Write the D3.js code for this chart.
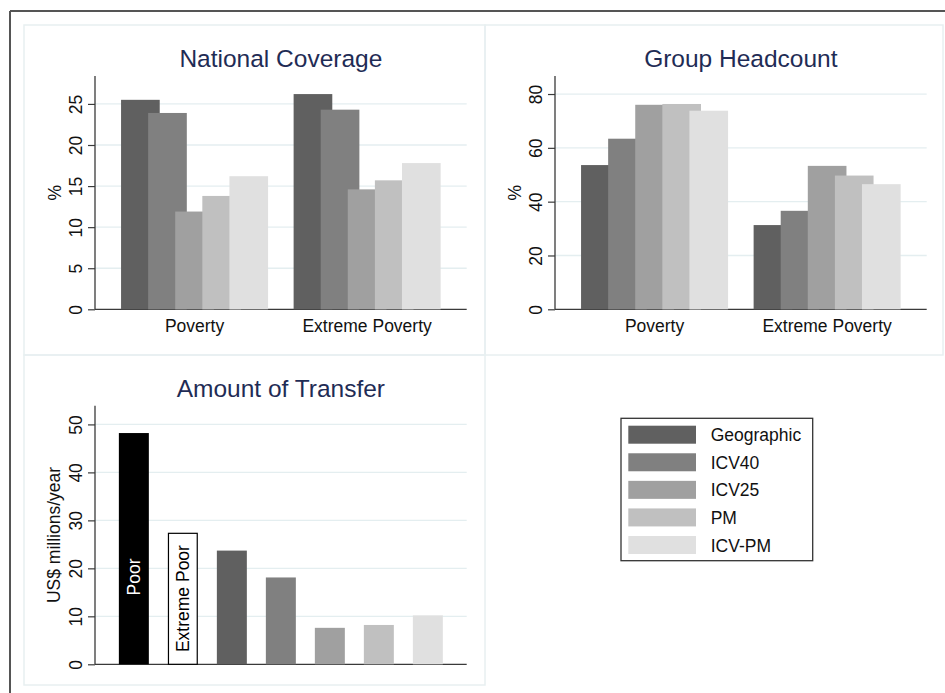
<!DOCTYPE html>
<html>
<head>
<meta charset="utf-8">
<script src="https://cdn.jsdelivr.net/npm/d3@7"></script>
<style>
  html, body { margin: 0; padding: 0; background: #ffffff; }
  svg { display: block; }
  text { font-family: "Liberation Sans", Arial, Helvetica, sans-serif; }
</style>
</head>
<body>
<svg id="chart" width="945" height="693"></svg>
<script>
// ---------------- data ----------------
const series = ["Geographic", "ICV40", "ICV25", "PM", "ICV-PM"];
const seriesColors = ["#606060", "#808080", "#a0a0a0", "#c0c0c0", "#e0e0e0"];
const groups = ["Poverty", "Extreme Poverty"];

const coveragePoverty = [25.5, 23.9, 11.9, 13.8, 16.2];
const coverageExtreme = [26.2, 24.3, 14.6, 15.7, 17.8];
const coverageTicks = [0, 5, 10, 15, 20, 25];
const coverageMax = 28.4;

const headcountPoverty = [53.6, 63.4, 76.0, 76.3, 73.8];
const headcountExtreme = [31.3, 36.6, 53.3, 49.7, 46.5];
const headcountTicks = [0, 20, 40, 60, 80];
const headcountMax = 86.7;

const transferCategories = ["Poor", "Extreme Poor", "Geographic", "ICV40", "ICV25", "PM", "ICV-PM"];
const transferValues = [48.2, 27.3, 23.7, 18.1, 7.6, 8.2, 10.2];
const transferTicks = [0, 10, 20, 30, 40, 50];
const transferMax = 53.9;
const transferInsideLabels = ["Poor", "Extreme Poor"];
const transferLabelPos = [18.2, 13.7];

// ---------------- style ----------------
const FONT = 17.5;
const TITLE_FONT = 24.5;
const TITLE_COLOR = "#1f2c55";
const AXIS_COLOR = "#3a3a3a";
const GRID_COLOR = "#e4eef0";
const PANEL_COLOR = "#e8eff1";

const svg = d3.select("#chart");

// outer frame (top and left)
svg.append("line").attr("x1", 10).attr("y1", 11).attr("x2", 945).attr("y2", 11)
  .attr("stroke", "#555").attr("stroke-width", 2);
svg.append("line").attr("x1", 10).attr("y1", 11).attr("x2", 10).attr("y2", 693)
  .attr("stroke", "#555").attr("stroke-width", 2);

// panel frames
const panels = [
  [24, 25, 485, 355],
  [485, 25, 943, 355],
  [24, 355, 485, 685]
];
panels.forEach(p => {
  svg.append("rect").attr("x", p[0]).attr("y", p[1])
    .attr("width", p[2] - p[0]).attr("height", p[3] - p[1])
    .attr("fill", "none").attr("stroke", PANEL_COLOR).attr("stroke-width", 1.5);
});

function drawAxisFrame(g, x0, x1, y, ticks, title, titleY, ylabel, ylabelX) {
  const [yTop, yBase] = [y.range()[1], y.range()[0]];
  // gridlines
  g.append("g").selectAll("line").data(ticks.filter(t => t !== 0)).join("line")
    .attr("x1", x0).attr("x2", x1)
    .attr("y1", d => y(d)).attr("y2", d => y(d))
    .attr("stroke", GRID_COLOR).attr("stroke-width", 1.3);
  // y axis via d3
  const axis = d3.axisLeft(y).tickValues(ticks).tickSize(7).tickSizeOuter(0).tickPadding(0);
  const ag = g.append("g").attr("transform", `translate(${x0},0)`).call(axis);
  ag.select(".domain").remove();
  ag.selectAll(".tick line").attr("stroke", AXIS_COLOR).attr("stroke-width", 1.2);
  ag.selectAll(".tick text")
    .attr("x", null).attr("dy", null)
    .attr("transform", "translate(-13.5,0) rotate(-90)")
    .attr("text-anchor", "middle")
    .attr("font-size", FONT).attr("fill", "#111")
    .attr("font-family", "Liberation Sans, Arial, sans-serif");
  g.append("line").attr("x1", x0).attr("x2", x0).attr("y1", yTop).attr("y2", yBase)
    .attr("stroke", AXIS_COLOR).attr("stroke-width", 1.3);
  g.append("line").attr("x1", x0).attr("x2", x1).attr("y1", yBase).attr("y2", yBase)
    .attr("stroke", AXIS_COLOR).attr("stroke-width", 1.3);
  // title
  g.append("text").attr("x", (x0 + x1) / 2).attr("y", titleY)
    .attr("text-anchor", "middle").attr("font-size", TITLE_FONT).attr("fill", TITLE_COLOR)
    .text(title);
  // y label
  g.append("text")
    .attr("transform", `translate(${ylabelX},${(yTop + yBase) / 2}) rotate(-90)`)
    .attr("text-anchor", "middle").attr("font-size", FONT).attr("fill", "#111")
    .text(ylabel);
}

function drawGrouped(cfg) {
  const g = svg.append("g");
  const y = d3.scaleLinear().domain([0, cfg.max]).range([cfg.yBase, cfg.yTop]);
  drawAxisFrame(g, cfg.x0, cfg.x1, y, cfg.ticks, cfg.title, cfg.titleY, "%", cfg.x0 - 34);

  const xg = d3.scaleBand().domain(groups).range([cfg.x0, cfg.x1])
    .paddingInner(0.148).paddingOuter(0.151);
  const bw = xg.bandwidth();
  const barW = bw * 0.263;
  const xs = d3.scalePoint().domain(series).range([0, bw - barW]);
  const color = d3.scaleOrdinal().domain(series).range(seriesColors);

  const rows = [];
  groups.forEach((gr, gi) => {
    cfg.values[gi].forEach((v, si) => rows.push({ group: gr, series: series[si], value: v }));
  });
  g.append("g").selectAll("rect").data(rows).join("rect")
    .attr("x", d => xg(d.group) + xs(d.series))
    .attr("width", barW)
    .attr("y", d => y(d.value))
    .attr("height", d => y(0) - y(d.value))
    .attr("fill", d => color(d.series));

  g.append("g").selectAll("text").data(groups).join("text")
    .attr("x", d => xg(d) + bw / 2)
    .attr("y", cfg.yBase + 23)
    .attr("text-anchor", "middle").attr("font-size", FONT).attr("fill", "#111")
    .text(d => d);
}

drawGrouped({
  x0: 95, x1: 466.7, yTop: 76, yBase: 309.3, max: coverageMax,
  ticks: coverageTicks, title: "National Coverage", titleY: 66.5,
  values: [coveragePoverty, coverageExtreme]
});
drawGrouped({
  x0: 555, x1: 926.7, yTop: 76, yBase: 309.3, max: headcountMax,
  ticks: headcountTicks, title: "Group Headcount", titleY: 66.5,
  values: [headcountPoverty, headcountExtreme]
});

// ---------------- Amount of Transfer ----------------
(function () {
  const g = svg.append("g");
  const x0 = 95, x1 = 466.7, yTop = 405.7, yBase = 664.3;
  const y = d3.scaleLinear().domain([0, transferMax]).range([yBase, yTop]);
  drawAxisFrame(g, x0, x1, y, transferTicks, "Amount of Transfer", 396.5, "US$ millions/year", 59.5);

  const x = d3.scaleBand().domain(transferCategories).range([x0, x1])
    .paddingInner(0.388).paddingOuter(0.487);
  const seriesColor = d3.scaleOrdinal().domain(series).range(seriesColors);
  const fillOf = (d, i) => i === 0 ? "#000000" : (i === 1 ? "#ffffff" : seriesColor(d));

  g.append("g").selectAll("rect").data(transferCategories).join("rect")
    .attr("x", d => x(d) + (transferCategories.indexOf(d) === 1 ? 0.6 : 0))
    .attr("width", (d, i) => i === 1 ? x.bandwidth() - 1.2 : x.bandwidth())
    .attr("y", (d, i) => y(transferValues[i]))
    .attr("height", (d, i) => y(0) - y(transferValues[i]))
    .attr("fill", (d, i) => fillOf(d, i))
    .attr("stroke", (d, i) => i === 1 ? "#000" : "none")
    .attr("stroke-width", 1.2);

  g.append("g").selectAll("text").data(transferInsideLabels).join("text")
    .attr("transform", (d, i) => `translate(${x(d) + x.bandwidth() / 2 + 6},${y(transferLabelPos[i])}) rotate(-90)`)
    .attr("text-anchor", "middle").attr("font-size", FONT)
    .attr("fill", (d, i) => i === 0 ? "#ffffff" : "#000000")
    .text(d => d);
})();

// ---------------- legend ----------------
(function () {
  const g = svg.append("g");
  g.append("rect").attr("x", 621).attr("y", 418.3).attr("width", 191.7).attr("height", 142.4)
    .attr("fill", "#fff").attr("stroke", "#333").attr("stroke-width", 1.3);
  const ly = d3.scalePoint().domain(series).range([425.7, 536]);
  const items = g.selectAll("g.item").data(series).join("g").attr("class", "item")
    .attr("transform", d => `translate(0,${ly(d)})`);
  items.append("rect").attr("x", 628.3).attr("y", 0).attr("width", 67.7).attr("height", 18)
    .attr("fill", (d, i) => seriesColors[i]);
  items.append("text").attr("x", 710.7).attr("y", 15.5)
    .attr("font-size", FONT).attr("fill", "#111").text(d => d);
})();
</script>
</body>
</html>
